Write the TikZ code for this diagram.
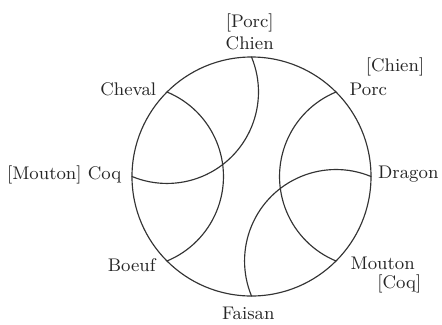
\documentclass[tikz,border=0pt]{standalone}
\usetikzlibrary{calc,positioning}

\begin{document}
\begin{tikzpicture}[
    font=\fontsize{8.7}{10.4}\selectfont,
    rim/.style={line width=0.55pt, draw=black!80},
    chord/.style={line width=0.55pt, draw=black!80, line cap=round},
    lbl/.style={inner sep=0pt, text=black!85},
    lbltwo/.style={inner sep=0pt, text=black!85, align=center}
]
  \def\R{2}
  \pgfmathsetmacro{\r}{2*\R*sin(22.5)}

  \useasboundingbox (-4.209,-2.469) rectangle (3.188,2.954);

  % outer circle and the eight points on it
  \draw[rim] (0,0) circle[radius=\R];
  \foreach \n/\a in {dragon/0,porc/45,chien/90,cheval/135,coq/180,boeuf/225,faisan/270,mouton/315} {
    \coordinate (p-\n) at (\a:\R);
  }

  % inner arcs, each centred on a point of the circle
  \draw[chord] (p-chien) arc[start angle=22.5, end angle=-112.5, radius=\r];
  \draw[chord] (p-cheval) arc[start angle=67.5, end angle=-67.5, radius=\r];
  \draw[chord] (p-porc) arc[start angle=112.5, end angle=247.5, radius=\r];
  \draw[chord] (p-dragon) arc[start angle=67.5, end angle=202.5, radius=\r];

  % labels
  \node[lbltwo] (l-chien) at (-0.03,2.415) {[Porc]\\Chien};
  \node[lbl] (l-cheval) at (-2.062,1.459) {Cheval};
  \node[lbl] (l-chienb) at (2.402,1.838) {[Chien]};
  \node[lbl] (l-porc) at (1.955,1.459) {Porc};
  \node[lbl,anchor=east] (l-coq) at (-2.172,0.025) {[Mouton] Coq};
  \node[lbl] (l-dragon) at (2.624,0.042) {Dragon};
  \node[lbl] (l-boeuf) at (-2.005,-1.481) {Boeuf};
  \node[lbl] (l-mouton) at (2.196,-1.453) {Mouton};
  \node[lbl] (l-coqb) at (2.474,-1.799) {[Coq]};
  \node[lbl] (l-faisan) at (-0.054,-2.290) {Faisan};
\end{tikzpicture}
\end{document}
